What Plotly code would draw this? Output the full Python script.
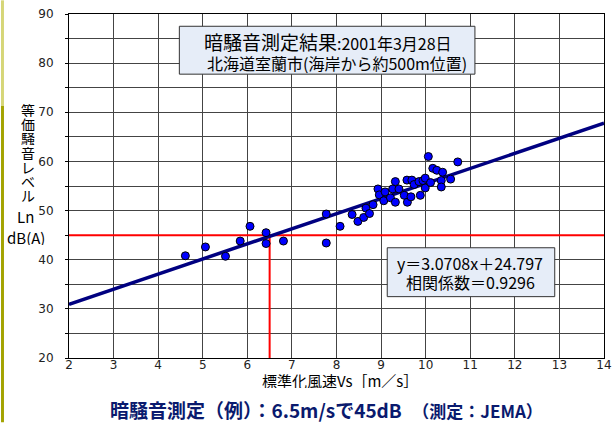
import plotly.graph_objects as go

# ---- data ----
wind_speed = [4.61, 5.06, 5.51, 5.84, 6.06, 6.42, 6.42, 6.81, 7.77, 7.77, 8.08,
              8.35, 8.48, 8.61, 8.66, 8.74, 8.82, 8.93, 8.96, 9.06, 9.09, 9.21,
              9.26, 9.32, 9.32, 9.40, 9.52, 9.58, 9.59, 9.67, 9.69, 9.74, 9.85,
              9.88, 9.94, 9.99, 9.99, 10.06, 10.11, 10.16, 10.25, 10.35, 10.35,
              10.38, 10.56, 10.72]
noise_level = [40.8, 42.6, 40.7, 43.8, 46.8, 45.5, 43.3, 43.8, 43.4, 49.3, 46.8,
               49.2, 47.8, 48.6, 50.5, 49.4, 51.2, 54.4, 53.2, 52.0, 53.8, 52.6,
               54.4, 55.9, 51.7, 54.4, 53.1, 56.2, 51.7, 52.8, 56.2, 55.3, 55.9,
               53.1, 56.1, 56.6, 54.6, 61.0, 55.7, 58.6, 58.2, 56.1, 54.8,
               57.8, 56.4, 59.9]
slope = 3.0708
intercept = 24.797
fit_x = [2, 14]
fit_y = [slope * v + intercept for v in fit_x]
target_speed = 6.5
target_level = 45
x_range = [2, 14]
y_range = [20, 90]
x_ticks = list(range(2, 15))
y_ticks = list(range(20, 91, 10))

# ---- layout helpers (pixel -> paper) ----
L, R, T, B = 69, 612, 13.7, 358.5
def xp(px):
    return (px - L) / (R - L)
def yp(py):
    return (B - py) / (B - T)

JP = "Noto Sans CJK JP"
NUM = "DejaVu Sans"

fig = go.Figure()

fig.add_trace(go.Scatter(
    x=[x_range[0], x_range[1]], y=[target_level, target_level],
    mode="lines", line=dict(color="#ff0000", width=2), hoverinfo="skip"))
fig.add_trace(go.Scatter(
    x=[target_speed, target_speed], y=[y_range[0], target_level],
    mode="lines", line=dict(color="#ff0000", width=2), hoverinfo="skip"))
fig.add_trace(go.Scatter(
    x=fit_x, y=fit_y, mode="lines",
    line=dict(color="#000080", width=3.5), hoverinfo="skip"))
fig.add_trace(go.Scatter(
    x=wind_speed, y=noise_level, mode="markers",
    marker=dict(color="#0000ff", size=8, line=dict(color="#000000", width=1))))

grid = "#444444"
fig.update_layout(
    width=616, height=423,
    margin=dict(l=L, r=616 - R, t=T, b=423 - B),
    paper_bgcolor="white", plot_bgcolor="white",
    showlegend=False,
    xaxis=dict(range=x_range, tickvals=x_ticks, showgrid=True, gridcolor=grid,
               gridwidth=1, showline=True, linecolor="#000", mirror=True,
               ticks="", zeroline=False, ticklabeloverflow="allow",
               ticklabelstandoff=-4,
               tickfont=dict(family=NUM, size=12, color="#222")),
    yaxis=dict(range=y_range, tickvals=y_ticks, showgrid=True, gridcolor=grid,
               gridwidth=1, showline=True, linecolor="#000", mirror=True,
               ticks="outside", ticklen=3, tickcolor="#000", zeroline=False,
               ticklabelstandoff=9,
               tickfont=dict(family=NUM, size=12, color="#222"),
               minor=dict(dtick=5, showgrid=True, gridcolor=grid, ticks="outside",
                          ticklen=3, tickcolor="#000")),
)

shapes = []
# left decorative strip
shapes.append(dict(type="rect", xref="paper", yref="paper", x0=xp(0), x1=xp(3),
                   y0=yp(106), y1=yp(0), fillcolor="#d6d678", line=dict(width=0), layer="above"))
shapes.append(dict(type="rect", xref="paper", yref="paper", x0=xp(0), x1=xp(3),
                   y0=yp(423), y1=yp(106), fillcolor="#a3a300", line=dict(width=0), layer="above"))
# title box
shapes.append(dict(type="rect", xref="paper", yref="paper", x0=xp(181), x1=xp(481),
                   y0=yp(74), y1=yp(26), fillcolor="#e6edf8",
                   line=dict(color="#333", width=1), layer="above"))
# equation box
shapes.append(dict(type="rect", xref="paper", yref="paper", x0=xp(392), x1=xp(562),
                   y0=yp(297), y1=yp(248), fillcolor="#e6edf8",
                   line=dict(color="#333", width=1), layer="above"))
fig.update_layout(shapes=shapes)

def ann(text, px, py, size, color="#000", family=JP, height=None):
    kw = {}
    if height is not None:
        kw = dict(height=height, borderpad=0)
    fig.add_annotation(text=text, xref="paper", yref="paper", x=xp(px), y=yp(py),
                       showarrow=False, xanchor="center", yanchor="middle",
                       font=dict(family=family, size=size, color=color), **kw)

ann("<span style='font-size:19px'>暗騒音測定結果</span>:2001年3月28日", 332, 41, 16)
ann("北海道室蘭市(海岸から約500m位置)", 341, 63, 16)
ann("y＝3.0708x＋24.797", 476, 263, 16)
ann("相関係数＝0.9296", 477, 282, 16)
# y axis title (stacked vertical characters)
for i, ch in enumerate("等価騒音レベル"):
    ann(ch, 27, 110 + 14.2 * i, 14, height=14)
ann("Ln", 25, 216, 15, height=16)
ann("dB(A)", 25, 237, 15, height=16)
# x axis title
ann("標準化風速Vs［m／s］", 344, 381, 15, height=16)
# caption
ann("<b>暗騒音測定（例）：6.5m/sで45dB　<span style='font-size:17px'>（測定：JEMA）</span></b>",
    330, 410, 19, color="#0a1a6e")

fig.write_html("out.html", config={"displayModeBar": False},
               post_script="document.body.style.margin='0';document.body.style.overflow='hidden';")
